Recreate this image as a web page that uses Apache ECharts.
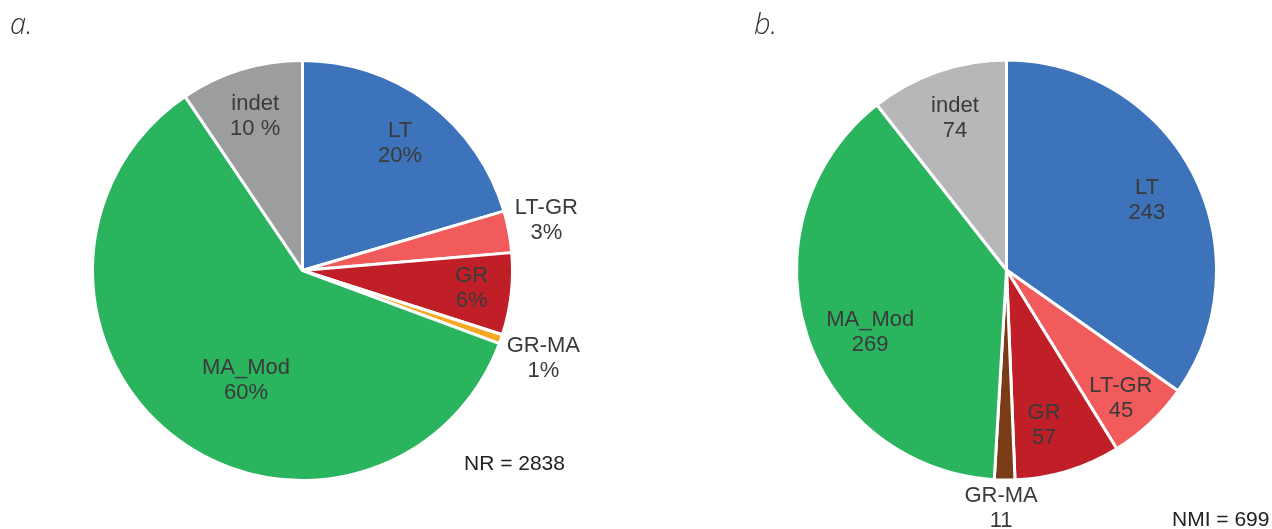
<!DOCTYPE html>
<html>
<head>
<meta charset="utf-8">
<script src="https://cdn.jsdelivr.net/npm/echarts@6/dist/echarts.min.js"></script>
<style>
html,body{margin:0;padding:0;background:#fff;}
#chart{width:1272px;height:529px;}
</style>
</head>
<body>
<div id="chart"></div>
<script>
// ---- data ----
const categories = ['LT', 'LT-GR', 'GR', 'GR-MA', 'MA_Mod', 'indet'];
const nrCounts = [580, 91, 179, 20, 1700, 268];
const nrPctLabels = ['20%', '3%', '6%', '1%', '60%', '10 %'];
const nmiCounts = [243, 45, 57, 11, 269, 74];
const panelTitles = ['a.', 'b.'];
const totalsText = ['NR = 2838', 'NMI = 699'];

// ---- styles / layout ----
const colorsA = ['#3d73bb', '#f15b5b', '#c11f27', '#f7a823', '#2bb45e', '#9b9d9e'];
const colorsB = ['#3d73bb', '#f15b5b', '#c11f27', '#7a3b17', '#2bb45e', '#b5b7b8'];
// label placement (polar: angle clockwise from 12 o'clock in degrees, radius in px)
const labelAngleA = [37.6, 78.3, 95.9, 110.1, 207.1, 342.9];
const labelRadiusA = [160, 249, 170, 256.5, 124, 161];
const labelAngleB = [63.8, 138.3, 166.4, 181.3, 245.3, 341.2];
const labelRadiusB = [156.5, 172, 160, 238.5, 150, 160];
const FONT = 'Liberation Sans, Arial, Helvetica, sans-serif';
const TXT = '#3a3a3a';

function mainPie(center, values, colors) {
  return {
    type: 'pie', center: center, radius: [0, 210], startAngle: 90, clockwise: true,
    silent: true, animation: false,
    label: {show: false}, labelLine: {show: false},
    itemStyle: {borderColor: '#fff', borderWidth: 3},
    data: values.map((v, i) => ({value: v, name: categories[i], itemStyle: {color: colors[i]}}))
  };
}
// transparent helper rings that only carry the text labels
function labelPies(center, values, angles, radii, textFn) {
  const total = values.reduce((a, b) => a + b, 0);
  let cum = 0;
  const mids = values.map(v => { const m = (cum + v / 2) / total * 360; cum += v; return m; });
  return values.map((_, k) => {
    const r = radii[k] - 3; // ECharts pushes inside labels 3px outward
    const rot = angles[k] - mids[k];
    return {
      type: 'pie', center: center, radius: [r - 0.5, r + 0.5], startAngle: 90 - rot, clockwise: true,
      silent: true, animation: false, avoidLabelOverlap: false,
      labelLine: {show: false},
      itemStyle: {color: 'rgba(0,0,0,0)', borderWidth: 0},
      emphasis: {disabled: true},
      data: values.map((v, i) => ({
        value: v, name: categories[i],
        label: {
          show: i === k, position: 'inside', formatter: textFn(i),
          color: TXT, fontFamily: FONT, fontSize: 22, lineHeight: 25,
          textBorderWidth: 0
        }
      }))
    };
  });
}

const centerA = [302.5, 270.5];
const centerB = [1006.5, 270];

const chart = echarts.init(document.getElementById('chart'), null, {renderer: 'canvas'});
chart.setOption({
  backgroundColor: '#fff',
  animation: false,
  title: [
    {text: panelTitles[0], left: 5, top: 6, textStyle: {fontFamily: 'Open Sans', fontStyle: 'italic', fontWeight: 300, fontSize: 29, color: '#333'}},
    {text: panelTitles[1], left: 749, top: 6, textStyle: {fontFamily: 'Open Sans', fontStyle: 'italic', fontWeight: 300, fontSize: 29, color: '#333'}},
    {text: totalsText[0], left: 459, top: 449, textStyle: {fontFamily: FONT, fontWeight: 'normal', fontSize: 21, color: '#222'}},
    {text: totalsText[1], left: 1167, top: 505, textStyle: {fontFamily: FONT, fontWeight: 'normal', fontSize: 21, color: '#222'}}
  ],
  series: [
    mainPie(centerA, nrCounts, colorsA),
    mainPie(centerB, nmiCounts, colorsB),
    ...labelPies(centerA, nrCounts, labelAngleA, labelRadiusA, i => categories[i] + '\n' + nrPctLabels[i]),
    ...labelPies(centerB, nmiCounts, labelAngleB, labelRadiusB, i => categories[i] + '\n' + nmiCounts[i])
  ]
});
</script>
</body>
</html>
